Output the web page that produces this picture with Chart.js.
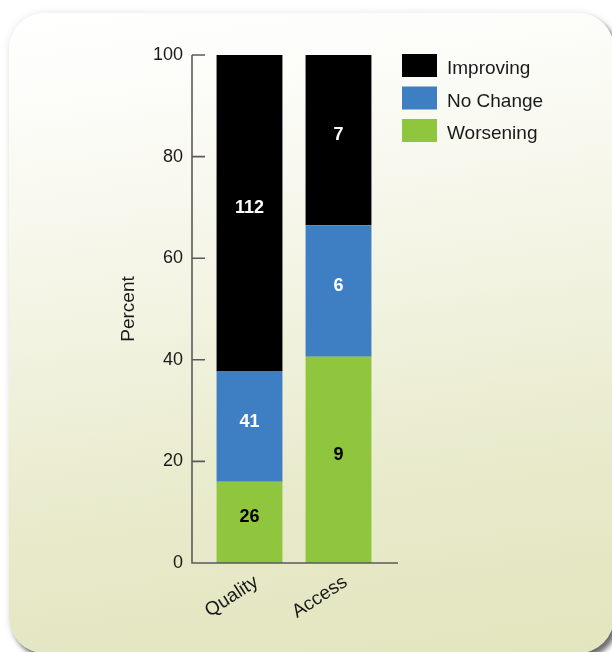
<!DOCTYPE html>
<html>
<head>
<meta charset="utf-8">
<script src="https://cdn.jsdelivr.net/npm/chart.js@4.4.1/dist/chart.umd.min.js"></script>
<style>
  html, body { margin: 0; padding: 0; background: #ffffff; }
  #wrap { position: relative; width: 612px; height: 652px; overflow: hidden; }
  #card {
    position: absolute; left: 9px; top: 13px; width: 605px; height: 640px;
    border-radius: 36px;
    background: linear-gradient(172deg, #ffffff 0%, #fbfbf6 18%, #f2f3e1 45%, #e8eacb 72%, #e2e5bd 100%);
    box-shadow: 0 0 9px rgba(0,0,0,0.10), 4px 5px 5px rgba(0,0,0,0.55);
  }
  #chart { position: absolute; left: 0; top: 0; }
</style>
</head>
<body>
<div id="wrap">
  <div id="card"></div>
  <canvas id="chart" width="612" height="652"></canvas>
</div>
<script>
// Categories and stacked percentages (bottom to top: worsening, no change, improving)
const categories = ['Quality', 'Access'];
const worsening = [16.0, 40.6];
const noChange = [21.7, 25.9];
const improving = [62.3, 33.5];

// Number of measures shown inside each segment
const worseningCounts = [26, 9];
const noChangeCounts = [41, 6];
const improvingCounts = [112, 7];

const yTicks = [0, 20, 40, 60, 80, 100];

const FONT = '"Liberation Sans", Arial, Helvetica, sans-serif';

// Axis line, baseline and inward tick marks
const axisFrame = {
  id: 'axisFrame',
  afterDraw(chart) {
    const { ctx, chartArea, scales: { y } } = chart;
    const axisX = chartArea.left - 13;
    const endX = chartArea.right + 15;
    const baseY = y.getPixelForValue(y.min);
    ctx.save();
    ctx.strokeStyle = '#5a5a5a';
    ctx.lineWidth = 1.6;
    ctx.beginPath();
    ctx.moveTo(axisX, y.getPixelForValue(y.max));
    ctx.lineTo(axisX, baseY);
    ctx.lineTo(endX, baseY);
    y.ticks.forEach(t => {
      const py = y.getPixelForValue(t.value);
      ctx.moveTo(axisX, py);
      ctx.lineTo(axisX + 13, py);
    });
    ctx.stroke();
    ctx.restore();
  }
};

// Count labels centred in each segment
const segmentLabels = {
  id: 'segmentLabels',
  afterDatasetsDraw(chart) {
    const { ctx } = chart;
    ctx.save();
    ctx.font = 'bold 18px ' + FONT;
    ctx.textAlign = 'center';
    ctx.textBaseline = 'middle';
    chart.data.datasets.forEach((ds, i) => {
      const meta = chart.getDatasetMeta(i);
      ctx.fillStyle = ds.labelColor;
      meta.data.forEach((bar, j) => {
        const midY = (bar.y + bar.base) / 2 - 5;
        ctx.fillText(String(ds.counts[j]), bar.x, midY);
      });
    });
    ctx.restore();
  }
};

// Legend to the right of the plot, top entry = top of the stack
const sideLegend = {
  id: 'sideLegend',
  afterDraw(chart) {
    const { ctx, chartArea } = chart;
    const boxX = chartArea.right + 19;
    let top = chartArea.top - 1;
    ctx.save();
    ctx.font = '19px ' + FONT;
    ctx.textAlign = 'left';
    ctx.textBaseline = 'middle';
    [...chart.data.datasets].reverse().forEach(ds => {
      ctx.fillStyle = ds.backgroundColor;
      ctx.fillRect(boxX, top, 35, 23);
      ctx.fillStyle = '#1a1a1a';
      ctx.fillText(ds.label, boxX + 45, top + 15);
      top += 32.5;
    });
    ctx.restore();
  }
};

new Chart(document.getElementById('chart'), {
  type: 'bar',
  data: {
    labels: categories,
    datasets: [
      { label: 'Worsening', data: worsening, counts: worseningCounts, backgroundColor: '#8fc63e', labelColor: '#000000' },
      { label: 'No Change', data: noChange, counts: noChangeCounts, backgroundColor: '#3e7fc3', labelColor: '#ffffff' },
      { label: 'Improving', data: improving, counts: improvingCounts, backgroundColor: '#000000', labelColor: '#ffffff' }
    ]
  },
  options: {
    responsive: false,
    animation: false,
    events: [],
    layout: { padding: { top: 55, right: 229, bottom: 0, left: 0 } },
    datasets: { bar: { categoryPercentage: 1, barPercentage: 0.74, borderWidth: 0 } },
    plugins: { legend: { display: false }, tooltip: { enabled: false } },
    scales: {
      x: {
        stacked: true,
        grid: { display: false, drawTicks: false },
        border: { display: false },
        ticks: {
          color: '#1a1a1a',
          font: { family: FONT, size: 19 },
          minRotation: 33,
          maxRotation: 33,
          padding: 8,
          labelOffset: 7
        },
        afterFit(scale) { scale.height = 89; }
      },
      y: {
        stacked: true,
        min: 0,
        max: 100,
        grid: { display: false, drawTicks: false },
        border: { display: false },
        afterBuildTicks(scale) { scale.ticks = yTicks.map(v => ({ value: v })); },
        ticks: {
          color: '#1a1a1a',
          font: { family: FONT, size: 18 },
          padding: 22
        },
        title: {
          display: true,
          text: 'Percent',
          color: '#1a1a1a',
          font: { family: FONT, size: 19 },
          padding: { top: 117, bottom: 0 }
        },
        afterFit(scale) { scale.width = 205; }
      }
    }
  },
  plugins: [axisFrame, segmentLabels, sideLegend]
});
</script>
</body>
</html>
